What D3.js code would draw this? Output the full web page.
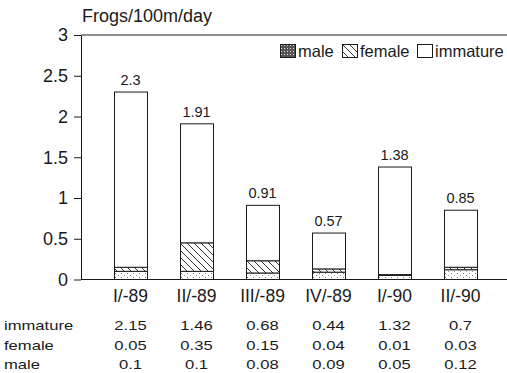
<!DOCTYPE html>
<html>
<head>
<meta charset="utf-8">
<script src="https://cdn.jsdelivr.net/npm/d3@7"></script>
<style>
body { margin: 0; background: #fff; }
svg { display: block; font-family: "Liberation Sans", Arial, sans-serif; }
</style>
</head>
<body>
<div id="chart"></div>
<script>
var periods = ["I/-89", "II/-89", "III/-89", "IV/-89", "I/-90", "II/-90"];
var male = [0.1, 0.1, 0.08, 0.09, 0.05, 0.12];
var female = [0.05, 0.35, 0.15, 0.04, 0.01, 0.03];
var immature = [2.15, 1.46, 0.68, 0.44, 1.32, 0.7];
var totals = [2.3, 1.91, 0.91, 0.57, 1.38, 0.85];
var y_ticks = [0, 0.5, 1, 1.5, 2, 2.5, 3];
var series_names = ["male", "female", "immature"];
var table_rows = [
    {"name": "immature", "values": immature},
    {"name": "female", "values": female},
    {"name": "male", "values": male}
];

var width = 507, height = 373;
var ink = "#1a1a1a";
var stretch = 1.33; // the table text in the scan is wider than it is tall

var svg = d3.select("#chart").append("svg")
    .attr("width", width)
    .attr("height", height);

var defs = svg.append("defs");

// sparse stipple for male segments
var dots = defs.append("pattern")
    .attr("id", "dots")
    .attr("patternUnits", "userSpaceOnUse")
    .attr("width", 6).attr("height", 4);
dots.append("rect").attr("width", 6).attr("height", 4).attr("fill", "#fff");
dots.append("rect").attr("x", 1).attr("y", 1).attr("width", 1).attr("height", 1).attr("fill", "#777");
dots.append("rect").attr("x", 4).attr("y", 3).attr("width", 1).attr("height", 1).attr("fill", "#999");

// diagonal hatch for female
var hatch = defs.append("pattern")
    .attr("id", "hatch")
    .attr("patternUnits", "userSpaceOnUse")
    .attr("width", 7).attr("height", 7);
hatch.append("rect").attr("width", 7).attr("height", 7).attr("fill", "#fff");
hatch.append("path")
    .attr("d", "M-1,-1 L8,8 M-1,6 L1,8 M6,-1 L8,1")
    .attr("stroke", "#333")
    .attr("stroke-width", 1);

// dense stipple for the legend swatch
var dense = defs.append("pattern")
    .attr("id", "dense")
    .attr("patternUnits", "userSpaceOnUse")
    .attr("width", 3).attr("height", 3);
dense.append("rect").attr("width", 3).attr("height", 3).attr("fill", "#555");
dense.append("rect").attr("x", 1).attr("y", 1).attr("width", 1).attr("height", 1).attr("fill", "#ddd");

var fills = {"male": "url(#dots)", "female": "url(#hatch)", "immature": "#fff"};
var swatch_fills = {"male": "url(#dense)", "female": "url(#hatch)", "immature": "#fff"};

var x = d3.scaleBand()
    .domain(periods)
    .range([97.5, 493.5])
    .paddingInner(0.5)
    .paddingOuter(0.25);

var y = d3.scaleLinear()
    .domain([0, 3])
    .range([279.5, 35]);

// frame lines
svg.append("line")
    .attr("x1", 81).attr("x2", width)
    .attr("y1", y(3)).attr("y2", y(3))
    .attr("stroke", ink).attr("stroke-width", 1);
svg.append("line")
    .attr("x1", 81).attr("x2", width)
    .attr("y1", y(0)).attr("y2", y(0))
    .attr("stroke", ink).attr("stroke-width", 1);

// y axis
var y_axis = svg.append("g")
    .attr("transform", "translate(81,0)")
    .call(d3.axisLeft(y).tickValues(y_ticks).tickSize(7).tickPadding(6).tickSizeOuter(0)
        .tickFormat(function(d) { return d3.format("")(d); }));
y_axis.select(".domain").attr("stroke", ink);
y_axis.selectAll(".tick line").attr("stroke", ink);
y_axis.selectAll("text")
    .attr("fill", ink)
    .style("font-size", "18px");

svg.append("text")
    .attr("x", 82)
    .attr("y", 22)
    .attr("fill", ink)
    .style("font-size", "18px")
    .text("Frogs/100m/day");

// stacked bars
var stack_data = periods.map(function(p, i) {
    return {"period": p, "male": male[i], "female": female[i], "immature": immature[i]};
});
var stacked = d3.stack().keys(series_names)(stack_data);

svg.append("g")
    .selectAll("g")
    .data(stacked)
    .enter().append("g")
    .attr("fill", function(s) { return fills[s.key]; })
    .selectAll("rect")
    .data(function(s) { return s; })
    .enter().append("rect")
        .attr("x", function(d) { return x(d.data.period) + 0.5; })
        .attr("y", function(d) { return y(d[1]); })
        .attr("width", x.bandwidth())
        .attr("height", function(d) { return y(d[0]) - y(d[1]); })
        .attr("stroke", ink)
        .attr("stroke-width", 1);

// total labels
svg.append("g")
    .selectAll("text")
    .data(periods)
    .enter().append("text")
        .attr("x", function(p) { return x(p) + x.bandwidth() / 2; })
        .attr("y", function(p, i) { return y(totals[i]) - 7; })
        .attr("text-anchor", "middle")
        .attr("fill", ink)
        .style("font-size", "14.5px")
        .text(function(p, i) { return totals[i]; });

// x labels
svg.append("g")
    .selectAll("text")
    .data(periods)
    .enter().append("text")
        .attr("x", function(p) { return x(p) + x.bandwidth() / 2; })
        .attr("y", 302)
        .attr("text-anchor", "middle")
        .attr("fill", ink)
        .style("font-size", "17.5px")
        .text(function(p) { return p; });

// data table
var row_y = [330, 350, 369];
var rows = svg.append("g")
    .selectAll("g")
    .data(table_rows)
    .enter().append("g");
rows.append("text")
    .attr("transform", function(r, i) { return "translate(4," + row_y[i] + ") scale(" + stretch + ",1)"; })
    .attr("fill", ink)
    .style("font-size", "12.5px")
    .text(function(r) { return r.name; });
rows.selectAll("text.val")
    .data(function(r, i) { return r.values.map(function(v) { return {"v": v, "row": i}; }); })
    .enter().append("text")
        .attr("class", "val")
        .attr("transform", function(d, i) {
            return "translate(" + (x(periods[i]) + x.bandwidth() / 2) + "," + row_y[d.row] + ") scale(" + stretch + ",1)";
        })
        .attr("text-anchor", "middle")
        .attr("fill", ink)
        .style("font-size", "12.5px")
        .text(function(d) { return d.v; });

// legend
var legend_x = [280, 342, 417];
var legend = svg.append("g")
    .selectAll("g")
    .data(series_names)
    .enter().append("g")
    .attr("transform", function(s, i) { return "translate(" + legend_x[i] + ",44)"; });
legend.append("rect")
    .attr("x", 0.5).attr("y", 0.5)
    .attr("width", 15).attr("height", 13)
    .attr("fill", function(s) { return swatch_fills[s]; })
    .attr("stroke", ink);
legend.append("text")
    .attr("x", 18)
    .attr("y", 12.5)
    .attr("fill", ink)
    .style("font-size", "16.5px")
    .text(function(s) { return s; });
</script>
</body>
</html>
